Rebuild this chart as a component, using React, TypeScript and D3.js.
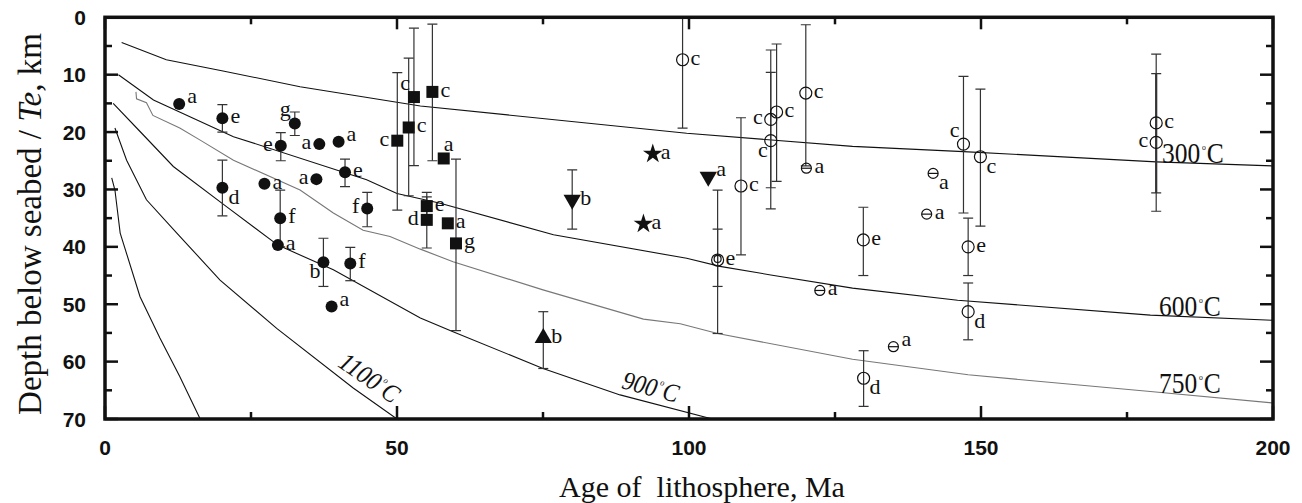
import React from 'react';
import * as d3 from 'd3';

// ---------- data ----------
const X_TICKS = [0, 50, 100, 150, 200];
const X_MINOR = [25, 75, 125, 175];
const Y_TICKS = [0, 10, 20, 30, 40, 50, 60, 70];
const Y_MINOR = [5, 15, 25, 35, 45, 55, 65];

type Pt = { age: number; te: number; lbl: string; pos: string; err?: [number, number]; thick?: boolean };

const filledCircles: Pt[] = [
  { age: 12.7, te: 15.1, lbl: 'a', pos: 'ur' },
  { age: 20.1, te: 17.6, lbl: 'e', pos: 'r', err: [15.2, 20.0] },
  { age: 32.5, te: 18.5, lbl: 'g', pos: 'ul', err: [16.5, 20.6] },
  { age: 30.1, te: 22.4, lbl: 'e', pos: 'l', err: [20.1, 25.0] },
  { age: 36.7, te: 22.1, lbl: 'a', pos: 'l' },
  { age: 40.0, te: 21.7, lbl: 'a', pos: 'ur' },
  { age: 20.1, te: 29.7, lbl: 'd', pos: 'lr', err: [24.9, 34.6] },
  { age: 27.3, te: 29.0, lbl: 'a', pos: 'r' },
  { age: 36.2, te: 28.2, lbl: 'a', pos: 'l' },
  { age: 41.1, te: 27.0, lbl: 'e', pos: 'r', err: [24.7, 29.5] },
  { age: 30.0, te: 35.0, lbl: 'f', pos: 'r', err: [30.1, 40.0] },
  { age: 29.6, te: 39.7, lbl: 'a', pos: 'r' },
  { age: 44.9, te: 33.3, lbl: 'f', pos: 'l', err: [30.5, 36.5] },
  { age: 37.4, te: 42.7, lbl: 'b', pos: 'll', err: [38.5, 46.9] },
  { age: 42.0, te: 42.9, lbl: 'f', pos: 'r', err: [40.1, 45.9] },
  { age: 38.8, te: 50.4, lbl: 'a', pos: 'ur' },
];

const squares: Pt[] = [
  { age: 50.05, te: 21.5, lbl: 'c', pos: 'l', err: [9.65, 33.6] },
  { age: 52.0, te: 19.2, lbl: 'c', pos: 'r', err: [7.1, 31.1] },
  { age: 52.9, te: 13.9, lbl: 'c', pos: 'ul', err: [1.9, 25.85] },
  { age: 56.06, te: 13.0, lbl: 'c', pos: 'r', err: [1.2, 25.0] },
  { age: 58.0, te: 24.6, lbl: 'a', pos: 'u' },
  { age: 55.1, te: 32.9, lbl: 'e', pos: 'r', err: [30.5, 35.3] },
  { age: 55.1, te: 35.3, lbl: 'd', pos: 'l', err: [31.3, 40.2] },
  { age: 58.7, te: 35.9, lbl: 'a', pos: 'r' },
  { age: 60.1, te: 39.4, lbl: 'g', pos: 'r', err: [24.7, 54.6] },
];

const stars: Pt[] = [
  { age: 93.8, te: 23.8, lbl: 'a', pos: 'r' },
  { age: 92.2, te: 36.0, lbl: 'a', pos: 'r' },
];

const downTriangles: Pt[] = [
  { age: 80.0, te: 31.8, lbl: 'b', pos: 'r', err: [26.6, 36.9] },
  { age: 103.3, te: 27.8, lbl: 'a', pos: 'ur' },
];

const upTriangles: Pt[] = [
  { age: 75.05, te: 55.9, lbl: 'b', pos: 'r', err: [51.3, 61.2] },
];

const openCircles: Pt[] = [
  { age: 98.9, te: 7.4, lbl: 'c', pos: 'r', err: [0, 19.3] },
  { age: 108.9, te: 29.4, lbl: 'c', pos: 'r', err: [17.5, 41.4] },
  { age: 114.0, te: 17.8, lbl: 'c', pos: 'l', err: [5.7, 33.4] },
  { age: 114.0, te: 21.5, lbl: 'c', pos: 'll', err: [9.6, 29.7] },
  { age: 115.0, te: 16.5, lbl: 'c', pos: 'r', err: [4.65, 28.6] },
  { age: 120.0, te: 13.2, lbl: 'c', pos: 'r', err: [1.3, 25.9] },
  { age: 104.9, te: 42.3, lbl: 'e', pos: 'r', err: [30.1, 55.1] },
  { age: 129.85, te: 38.8, lbl: 'e', pos: 'r', err: [33.1, 45.0] },
  { age: 147.8, te: 40.0, lbl: 'e', pos: 'r', err: [35.0, 45.0] },
  { age: 147.0, te: 22.1, lbl: 'c', pos: 'ul', err: [10.3, 34.1] },
  { age: 149.9, te: 24.3, lbl: 'c', pos: 'lr', err: [12.5, 36.4] },
  { age: 147.8, te: 51.3, lbl: 'd', pos: 'lr', err: [46.3, 56.2] },
  { age: 129.9, te: 62.9, lbl: 'd', pos: 'lr', err: [58.1, 67.8] },
  { age: 180.0, te: 18.4, lbl: 'c', pos: 'r', err: [6.4, 33.8] },
  { age: 180.0, te: 21.8, lbl: 'c', pos: 'l', err: [9.8, 30.6], thick: true },
];

const innerCircles: Pt[] = [
  { age: 104.9, te: 42.1, lbl: '', pos: 'r', err: [36.9, 46.9] },
];

const barredCircles: Pt[] = [
  { age: 120.1, te: 26.3, lbl: 'a', pos: 'r' },
  { age: 122.4, te: 47.6, lbl: 'a', pos: 'r' },
  { age: 135.0, te: 57.4, lbl: 'a', pos: 'ur' },
  { age: 141.8, te: 27.2, lbl: 'a', pos: 'lr' },
  { age: 140.7, te: 34.3, lbl: 'a', pos: 'r' },
];

const iso300: [number, number][] = [
  [2.85, 4.4], [10.5, 7.4], [20, 9.3], [33.4, 12.1], [54, 15.45], [99.6, 20.2],
  [128, 22.5], [147, 23.4], [180, 25.2], [200, 25.9],
];
const iso600: [number, number][] = [
  [2.3, 10], [8.3, 14.4], [15.1, 17.6], [22, 20.8], [44.8, 28.3], [50, 30.7], [57.4, 32.4],
  [76.8, 37.9], [99.6, 42], [105.3, 43.4], [114, 44.9], [128, 47.2], [146, 49.3],
  [179, 51.9], [200, 52.8],
];
const iso750: [number, number][] = [
  [5.3, 13.0], [5.4, 14.2], [7.1, 14.9], [8.2, 17.1], [12.8, 19.3], [16.3, 21.4], [22, 24.9],
  [33.4, 30.1], [39.1, 34.1], [44.2, 37.1], [48.8, 38.2], [54, 40.4], [59.6, 42.6],
  [75, 47.5], [92.2, 52.6], [98.5, 53.4], [104.9, 55.1], [128, 59.6], [147.8, 62.3],
  [179, 65.2], [200, 67.2],
];
const iso900: [number, number][] = [
  [1.4, 15], [6, 19.9], [11.7, 26], [20.8, 33], [29.6, 39.7], [39.1, 44], [54, 52.4],
  [59.6, 54.8], [75, 61.2], [88.2, 65.8], [104, 70],
];
const iso1100: [number, number][] = [
  [1.7, 19.3], [3.7, 24.9], [7.1, 31.8], [12.3, 37.6], [19.7, 45.8], [29.4, 54.2],
  [42.5, 64.6], [50, 70],
];
const isoDeep: [number, number][] = [
  [1.15, 28], [1.7, 30.1], [2.6, 37.6], [6, 48.7], [9.4, 55.9], [12.8, 62.6], [16.3, 70],
];

const isotherms = [
  { key: 'iso300', pts: iso300, color: '#111' },
  { key: 'iso600', pts: iso600, color: '#111' },
  { key: 'iso750', pts: iso750, color: '#777' },
  { key: 'iso900', pts: iso900, color: '#111' },
  { key: 'iso1100', pts: iso1100, color: '#111' },
  { key: 'isoDeep', pts: isoDeep, color: '#111' },
];

// ---------- layout ----------
const W = 1302;
const H = 503;
const L = 105, R = 1273, T = 17.3, B = 419;

const x = d3.scaleLinear().domain([0, 200]).range([L, R]);
const y = d3.scaleLinear().domain([0, 70]).range([T, B]);
const line = d3.line<[number, number]>().x(d => x(d[0])).y(d => y(d[1]));

const SERIF = '"Liberation Serif", "Times New Roman", serif';
const SANS = '"Liberation Sans", Arial, sans-serif';

const OFF: Record<string, [number, number, string]> = {
  r: [8, 5, 'start'],
  ur: [8, -1, 'start'],
  l: [-8, 5, 'end'],
  ul: [-4, -7, 'end'],
  lr: [6, 16, 'start'],
  ll: [-3, 16, 'end'],
  u: [0, -7, 'start'],
};

function ErrBars({ pts }: { pts: Pt[] }) {
  return (
    <g stroke="#333" fill="none">
      {pts.filter(p => p.err).map((p, i) => {
        const cx = x(p.age);
        const y0 = y(p.err![0]);
        const y1 = y(p.err![1]);
        const sw = p.thick ? 2.2 : 1.2;
        return (
          <g key={i} strokeWidth={sw}>
            <line x1={cx} x2={cx} y1={y0} y2={y1} />
            <line x1={cx - 5} x2={cx + 5} y1={y0} y2={y0} strokeWidth={1.2} />
            <line x1={cx - 5} x2={cx + 5} y1={y1} y2={y1} strokeWidth={1.2} />
          </g>
        );
      })}
    </g>
  );
}

function Labels({ pts }: { pts: Pt[] }) {
  return (
    <g fontFamily={SERIF} fontSize={22} fill="#111">
      {pts.filter(p => p.lbl).map((p, i) => {
        const o = OFF[p.pos];
        return (
          <text key={i} x={x(p.age) + o[0]} y={y(p.te) + o[1]} textAnchor={o[2] as any}>
            {p.lbl}
          </text>
        );
      })}
    </g>
  );
}

const starPath = d3.symbol().type(d3.symbolStar).size(120)()!;
const triPath = d3.symbol().type(d3.symbolTriangle).size(130)()!;

function Deg({ t }: { t: string }) {
  return (
    <>
      <tspan>{t}</tspan>
      <tspan dx={2} dy={-13} fontSize={9}>o</tspan>
      <tspan dx={1} dy={13}>C</tspan>
    </>
  );
}

export default function App() {
  const allPts = [...filledCircles, ...squares, ...stars, ...downTriangles, ...upTriangles,
    ...openCircles, ...innerCircles, ...barredCircles];
  return (
    <svg width={W} height={H} style={{ position: 'absolute', left: 0, top: 0, background: '#fff' }}>
      <defs>
        <clipPath id="plot">
          <rect x={L} y={T} width={R - L} height={B - T} />
        </clipPath>
      </defs>

      <g clipPath="url(#plot)">
        {isotherms.map(c => (
          <path key={c.key} d={line(c.pts)!} fill="none" stroke={c.color} strokeWidth={1.1} />
        ))}
        <ErrBars pts={allPts} />
      </g>

      {/* markers */}
      <g fill="#111">
        {filledCircles.map((p, i) => <circle key={i} cx={x(p.age)} cy={y(p.te)} r={6} />)}
        {squares.map((p, i) => <rect key={i} x={x(p.age) - 6} y={y(p.te) - 6} width={12} height={12} />)}
        {stars.map((p, i) => <path key={i} d={starPath} transform={`translate(${x(p.age)},${y(p.te)})`} />)}
        {downTriangles.map((p, i) => (
          <path key={i} d={triPath} transform={`translate(${x(p.age)},${y(p.te)}) rotate(180)`} />
        ))}
        {upTriangles.map((p, i) => <path key={i} d={triPath} transform={`translate(${x(p.age)},${y(p.te)})`} />)}
      </g>
      <g fill="none" stroke="#111" strokeWidth={1.2}>
        {openCircles.map((p, i) => <circle key={i} cx={x(p.age)} cy={y(p.te)} r={6} />)}
        {innerCircles.map((p, i) => <circle key={i} cx={x(p.age)} cy={y(p.te)} r={3.5} />)}
        {barredCircles.map((p, i) => (
          <g key={i}>
            <circle cx={x(p.age)} cy={y(p.te)} r={5} />
            <line x1={x(p.age) - 5} x2={x(p.age) + 5} y1={y(p.te)} y2={y(p.te)} />
          </g>
        ))}
      </g>

      <Labels pts={allPts} />

      {/* isotherm labels */}
      <g fontFamily={SERIF} fill="#111">
        <text transform={`translate(${x(181)},${y(25.4)}) scale(0.85,1)`} fontSize={30}><Deg t="300" /></text>
        <text transform={`translate(${x(180.5)},${y(52.1)}) scale(0.85,1)`} fontSize={30}><Deg t="600" /></text>
        <text transform={`translate(${x(180.5)},${y(65.4)}) scale(0.85,1)`} fontSize={30}><Deg t="750" /></text>
        <text transform={`translate(${x(88.3)},${y(64.6)}) rotate(15) scale(0.9,1)`} fontSize={26} fontStyle="italic"><Deg t="900" /></text>
        <text transform={`translate(${x(39.7)},${y(60.7)}) rotate(35) scale(0.9,1)`} fontSize={26} fontStyle="italic"><Deg t="1100" /></text>
      </g>

      {/* frame */}
      <rect x={L} y={T} width={R - L} height={B - T} fill="none" stroke="#111" strokeWidth={3.5} />

      {/* ticks */}
      <g stroke="#111" strokeWidth={2.5}>
        {Y_TICKS.map(v => <line key={'yl' + v} x1={L} x2={L + 13} y1={y(v)} y2={y(v)} />)}
        {Y_MINOR.map(v => <line key={'ylm' + v} x1={L} x2={L + 7} y1={y(v)} y2={y(v)} />)}
        {Y_TICKS.map(v => <line key={'yr' + v} x1={R} x2={R - 13} y1={y(v)} y2={y(v)} />)}
        {Y_MINOR.map(v => <line key={'yrm' + v} x1={R} x2={R - 7} y1={y(v)} y2={y(v)} />)}
        {X_TICKS.map(v => <line key={'xb' + v} x1={x(v)} x2={x(v)} y1={B} y2={B - 13} />)}
        {X_MINOR.map(v => <line key={'xbm' + v} x1={x(v)} x2={x(v)} y1={B} y2={B - 7} />)}
        {X_TICKS.map(v => <line key={'xt' + v} x1={x(v)} x2={x(v)} y1={T} y2={T + 12} />)}
        {X_MINOR.map(v => <line key={'xtm' + v} x1={x(v)} x2={x(v)} y1={T} y2={T + 7} />)}
      </g>

      {/* tick labels */}
      <g fontFamily={SANS} fontWeight="bold" fontSize={21} fill="#111">
        {Y_TICKS.map(v => (
          <text key={'ty' + v} x={86} y={y(v) + 7.5} textAnchor="end">{v}</text>
        ))}
        {X_TICKS.map(v => (
          <text key={'tx' + v} x={x(v)} y={455} textAnchor="middle">{v}</text>
        ))}
      </g>

      {/* axis titles */}
      <text x={702} y={497} textAnchor="middle" fontFamily={SERIF} fontSize={30} fill="#111" style={{ whiteSpace: 'pre' }}>
        {'Age of  lithosphere, Ma'}
      </text>
      <text transform="translate(41,224) rotate(-90)" textAnchor="middle" fontFamily={SERIF} fontSize={33} fill="#111">
        Depth below seabed / <tspan fontStyle="italic">Te</tspan>, km
      </text>
    </svg>
  );
}
